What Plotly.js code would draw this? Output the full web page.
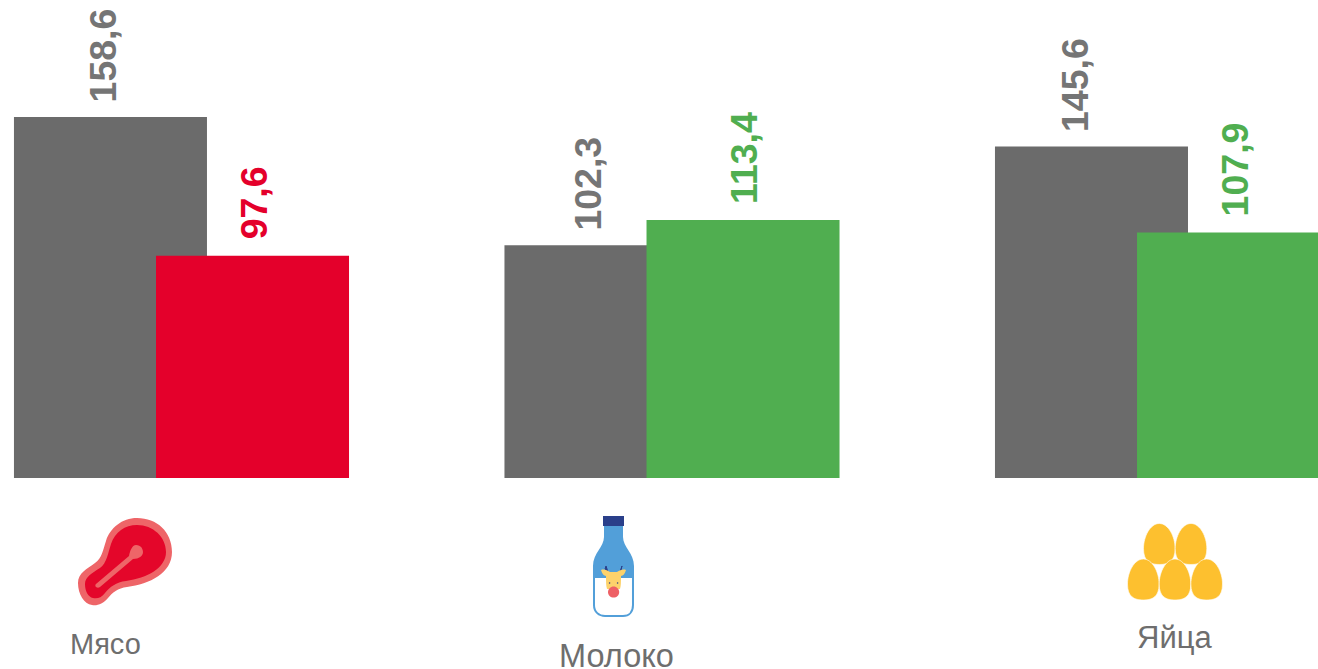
<!DOCTYPE html>
<html>
<head>
<meta charset="utf-8">
<script src="https://cdn.plot.ly/plotly-3.0.1.min.js"></script>
<style>html,body{margin:0;padding:0;background:#fff;overflow:hidden}#c{width:1318px;height:669px}</style>
</head>
<body>
<div id="c"></div>
<script>
var categories = ['Мясо', 'Молоко', 'Яйца'];
var baseValues = [158.6, 102.3, 145.6];
var currentValues = [97.6, 113.4, 107.9];
var currentColors = ['#e4002b', '#50ae50', '#50ae50'];
var baseColor = '#6b6b6b';
var baseLabelColor = '#757575';
var baseLabelShift = [-7, -12.5, -17];
var currentLabelShift = [1.5, 1, 1.5];
var categoryLabelX = [106, 616, 1174];
var categoryLabelY = [644, 656, 637];
var categoryLabelSize = [29, 32.5, 31];

var W = 1318, H = 669, PH = 478;
var idx = categories.map(function (_, i) { return i; });

var barWidth = 0.3935, grpOffset = 0.1448;
var traces = [
  { type: 'bar', x: idx, y: baseValues, width: barWidth, offset: -grpOffset - barWidth / 2,
    marker: { color: baseColor, line: { width: 0 } }, hoverinfo: 'skip' },
  { type: 'bar', x: idx, y: currentValues, width: barWidth, offset: grpOffset - barWidth / 2,
    marker: { color: currentColors, line: { width: 0 } }, hoverinfo: 'skip' }
];

function fmt(v) { return v.toFixed(1).replace('.', ','); }
var annotations = [];
var labelFont = 'Liberation Sans, Arial, sans-serif';
idx.forEach(function (i) {
  annotations.push({ x: i - grpOffset, y: baseValues[i], xref: 'x', yref: 'y', text: '<b>' + fmt(baseValues[i]) + '</b>',
    textangle: -90, showarrow: false, xanchor: 'center', yanchor: 'bottom', xshift: baseLabelShift[i], yshift: 13,
    font: { family: labelFont, size: 37.5, color: baseLabelColor } });
  annotations.push({ x: i + grpOffset, y: currentValues[i], xref: 'x', yref: 'y', text: '<b>' + fmt(currentValues[i]) + '</b>',
    textangle: -90, showarrow: false, xanchor: 'center', yanchor: 'bottom', xshift: currentLabelShift[i], yshift: 14,
    font: { family: labelFont, size: 37.5, color: currentColors[i] } });
  annotations.push({ x: categoryLabelX[i] / W, y: 1 - categoryLabelY[i] / PH, xref: 'paper', yref: 'paper', text: categories[i],
    showarrow: false, xanchor: 'center', yanchor: 'middle',
    font: { family: labelFont, size: categoryLabelSize[i], color: '#6e6e6e' } });
});

// pixel-space icon paths converted to paper coordinates
function toPaper(d) {
  var isX = true;
  return d.replace(/-?\d+(\.\d+)?/g, function (n) {
    var v = parseFloat(n), r = isX ? v / W : 1 - v / PH;
    isX = !isX;
    return r.toFixed(5);
  });
}
function icon(d, fill, line, lw) {
  return { type: 'path', xref: 'paper', yref: 'paper', path: toPaper(d), fillcolor: fill,
    line: { color: line || 'rgba(0,0,0,0)', width: lw || 0 }, layer: 'above' };
}
function egg(cx, top) {
  var b = top + 41, m = top + 25, r = 15.8;
  return 'M' + cx + ',' + top +
    ' C' + (cx + 9) + ',' + top + ' ' + (cx + r) + ',' + (top + 13) + ' ' + (cx + r) + ',' + m +
    ' C' + (cx + r) + ',' + (b - 3) + ' ' + (cx + 9) + ',' + b + ' ' + cx + ',' + b +
    ' C' + (cx - 9) + ',' + b + ' ' + (cx - r) + ',' + (b - 3) + ' ' + (cx - r) + ',' + m +
    ' C' + (cx - r) + ',' + (top + 13) + ' ' + (cx - 9) + ',' + top + ' ' + cx + ',' + top + ' Z';
}
function circle(cx, cy, r) {
  var k = r * 0.5523;
  return 'M' + (cx + r) + ',' + cy +
    ' C' + (cx + r) + ',' + (cy + k) + ' ' + (cx + k) + ',' + (cy + r) + ' ' + cx + ',' + (cy + r) +
    ' C' + (cx - k) + ',' + (cy + r) + ' ' + (cx - r) + ',' + (cy + k) + ' ' + (cx - r) + ',' + cy +
    ' C' + (cx - r) + ',' + (cy - k) + ' ' + (cx - k) + ',' + (cy - r) + ' ' + cx + ',' + (cy - r) +
    ' C' + (cx + k) + ',' + (cy - r) + ' ' + (cx + r) + ',' + (cy - k) + ' ' + (cx + r) + ',' + cy + ' Z';
}
var shapes = [
  // meat
  icon('M78,583 C78,573 87,569 95,563 C102,558 103,550 106,541 C110,528 122,518 137,518 C157,518 172,532 172,552 C172,573 150,584 127,587 C118,588 112,593 108,598 C103,604 97,606 92,605 C84,604 78,594 78,583 Z', '#ee6568'),
  icon('M85,584 C85,577 92,573 100,568 C107,563 108,553 111,544 C115,532 125,525 137,525 C153,525 166,537 166,552 C166,568 147,578 126,581 C116,582 110,587 105,593 C101,598 97,599 93,598 C88,597 85,591 85,584 Z', '#e4062a'),
  icon('M96,584 L129,556 C130,551 132,545 136,545 C141,545 143,549 143,552 C143,556 139,559 133,559 L100,587 C97,589 94,586 96,584 Z', '#ee6568'),
  // bottle: white body with blue outline, blue upper part
  icon('M594,577 L594,605 C594,612 599,616 605,616 L623,616 C629,616 633,612 633,605 L633,577 Z', '#ffffff', '#529fd9', 2),
  icon('M604,526 L623,526 L623,537 C623,547 634,553 634,566 L634,577 L593,577 L593,566 C593,553 604,547 604,537 Z', '#529fd9'),
  icon('M603,516 L624,516 L624,526 L603,526 Z', '#2a3f8a'),
  // cow
  icon('M605,569 L610,574 L608,572 L606,566 Z', '#2a3f8a', '#2a3f8a', 1),
  icon('M622,566 L620,572 L617,574 L621,570 Z', '#2a3f8a', '#2a3f8a', 1),
  icon('M601,570 C604,569 607,570 610,572 L617,572 C620,570 623,569 626,570 C625,574 623,576 621,576 C621,582 621,586 620,589 L607,589 C606,586 606,582 606,576 C604,576 602,574 601,570 Z', '#fdd26b'),
  icon(circle(613.6, 592, 5.6), '#ee6065'),
  icon(circle(609.6, 583, 0.8), '#2a3f8a'),
  icon(circle(617.6, 583, 0.8), '#2a3f8a'),
  // eggs
  icon(egg(1159.3, 523.5), '#fdc02f', '#ffffff', 0.6),
  icon(egg(1191, 523.5), '#fdc02f', '#ffffff', 0.6),
  icon(egg(1143.3, 559), '#fdc02f', '#ffffff', 0.6),
  icon(egg(1175, 559), '#fdc02f', '#ffffff', 0.6),
  icon(egg(1206.7, 559), '#fdc02f', '#ffffff', 0.6)
];

var layout = {
  width: W, height: H,
  margin: { l: 0, r: 0, t: 0, b: 191, pad: 0 },
  barmode: 'overlay',
  showlegend: false,
  paper_bgcolor: '#ffffff', plot_bgcolor: '#ffffff',
  xaxis: { range: [-0.37, 2.317], visible: false, fixedrange: true },
  yaxis: { range: [0, 210], visible: false, fixedrange: true },
  annotations: annotations,
  shapes: shapes
};
Plotly.newPlot('c', traces, layout, { displayModeBar: false, staticPlot: true });
</script>
</body>
</html>
